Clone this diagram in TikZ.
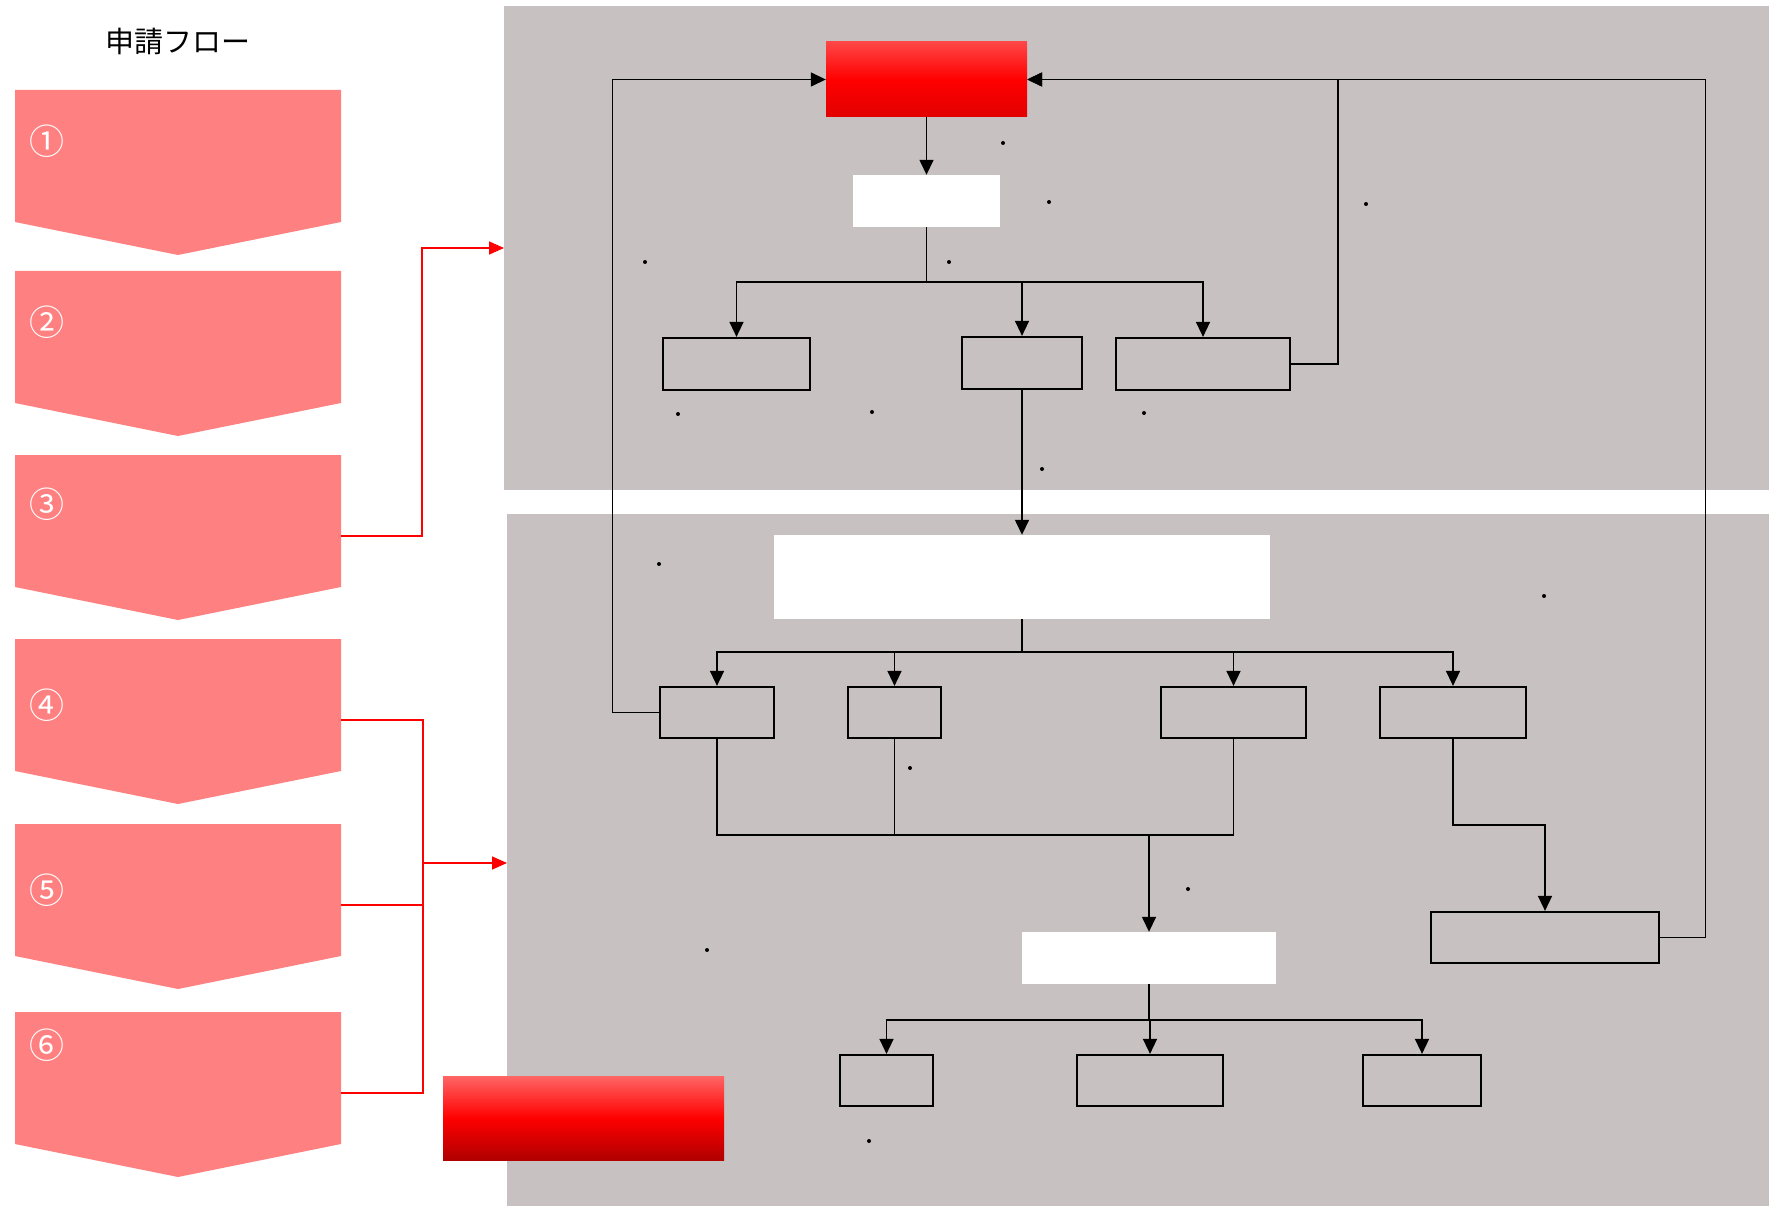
\documentclass[tikz,border=0pt]{standalone}
\usepackage{fontspec}
\newfontfamily\jp{Noto Sans CJK JP}
\usetikzlibrary{arrows.meta,calc}
\definecolor{panel}{RGB}{199,193,193}
\definecolor{pent}{RGB}{255,128,128}
\definecolor{redA}{RGB}{255,70,70}
\definecolor{redB}{RGB}{255,0,0}
\definecolor{redC}{RGB}{226,0,0}
\definecolor{redD}{RGB}{255,102,102}
\definecolor{redE}{RGB}{176,0,0}
\begin{document}
\begin{tikzpicture}[x=1pt,y=-1pt,
  obox/.style={draw=black,line width=2.2pt,inner sep=0pt},
  wbox/.style={fill=white,inner sep=0pt},
  redtop/.style={inner sep=0pt,top color=redA,bottom color=redC,middle color=redB},
  redbot/.style={inner sep=0pt,top color=redD,bottom color=redE,middle color=redB},
  conn/.style={draw=black,line width=1.5pt},
  arr/.style={conn,-{Triangle[length=15pt,width=14pt]}},
  rconn/.style={draw=red,line width=1.6pt},
  rarr/.style={rconn,-{Triangle[length=15pt,width=13pt]}},
  num/.style={text=white,font=\jp\fontsize{35}{38}\selectfont,inner sep=0pt},
  dotm/.style={fill=black}
]
\useasboundingbox (0,0) rectangle (1769,1206);
% panels
\fill[panel] (504,6) rectangle (1769,490);
\fill[panel] (507,514) rectangle (1769,1206);
\coordinate (upin) at (504,248);
\coordinate (lowin) at (507,863);

% title
\node[font=\jp\fontsize{29}{32}\selectfont,inner sep=0pt] (title) at (178,41) {申請フロー};

% pentagons
\foreach \t/\n/\ly/\k in {90/①/141/1,271/②/322/2,455/③/504/3,639/④/705/4,824/⑤/890/5,1012/⑥/1045/6}{
  \fill[pent] (15,\t) -- (341,\t) -- (341,\t+132) -- (178,\t+165) -- (15,\t+132) -- cycle;
  \node[num] (n\k) at (47,\ly) {\n};
}
\coordinate (p3) at (341,536);
\coordinate (p4) at (341,720);
\coordinate (p5) at (341,905);
\coordinate (p6) at (341,1093);

% red connectors
\draw[rarr] (p3) -- (422,536) -- (422,248) -- (upin);
\draw[rconn] (p4) -- (423,720) -- (423,1093) -- (p6);
\draw[rconn] (p5) -- (423,905);
\draw[rarr] (423,863) -- (lowin);

% nodes
\node[redtop,minimum width=201pt,minimum height=75pt] (top) at (926.5,79.5) {};
\node[wbox,minimum width=147pt,minimum height=52pt] (wa) at (926.5,201) {};
\node[obox,minimum width=147pt,minimum height=52pt] (b1) at (736.5,364) {};
\node[obox,minimum width=120pt,minimum height=52pt] (b2) at (1022,363) {};
\node[obox,minimum width=174pt,minimum height=52pt] (b3) at (1203,364) {};
\node[wbox,minimum width=496pt,minimum height=84pt] (wbig) at (1022,577) {};
\node[obox,minimum width=114pt,minimum height=51pt] (c1) at (717,712.5) {};
\node[obox,minimum width=93pt,minimum height=51pt] (c2) at (894.5,712.5) {};
\node[obox,minimum width=145pt,minimum height=51pt] (c3) at (1233.5,712.5) {};
\node[obox,minimum width=146pt,minimum height=51pt] (c4) at (1453,712.5) {};
\node[obox,minimum width=228pt,minimum height=51pt] (e) at (1545,937.5) {};
\node[wbox,minimum width=254pt,minimum height=52pt] (wd) at (1149,958) {};
\node[obox,minimum width=93pt,minimum height=51pt] (f1) at (886.5,1080.5) {};
\node[obox,minimum width=146pt,minimum height=51pt] (f2) at (1150,1080.5) {};
\node[obox,minimum width=118pt,minimum height=51pt] (f3) at (1422,1080.5) {};
\node[redbot,minimum width=281pt,minimum height=84pt] (rb) at (583.5,1118) {};

% connectors upper
\draw[arr] (top.south) -- (wa.north);
\draw[conn] (wa.south) -- (926.5,282);
\draw[arr] (926.5,282) -| (b1.north);
\draw[arr] (926.5,282) -| (b2.north);
\draw[arr] (926.5,282) -| (b3.north);
\draw[arr] (b3.east) -- (1338,364) -- (1338,79.5) -- (top.east);
\draw[arr] (e.east) -- (1705.5,937.5) -- (1705.5,79.5) -- (top.east);
\draw[arr] (c1.west) -- (612.5,712.5) -- (612.5,79.5) -- (top.west);
\draw[arr] (b2.south) -- (wbig.north);

% lower
\draw[conn] (wbig.south) -- (1022,652);
\draw[arr] (1022,652) -| (c1.north);
\draw[arr] (1022,652) -| (c2.north);
\draw[arr] (1022,652) -| (c3.north);
\draw[arr] (1022,652) -| (c4.north);
\draw[conn] (c1.south) -- (717,835) -- (1233.5,835) -- (c3.south);
\draw[conn] (c2.south) -- (894.5,835);
\draw[arr] (1149,835) -- (wd.north);
\draw[arr] (c4.south) -- (1453,825) -| (e.north);
\draw[conn] (wd.south) -- (1149,1020);
\draw[arr] (1149,1020) -| (f1.north);
\draw[arr] (1149,1020) -| (f2.north);
\draw[arr] (1149,1020) -| (f3.north);

% dots
\foreach \x/\y in {1003/143,1049/202,949/262,1366/204,645/262,678/414,872/412,1144/413,1042/469,659/564,1544/596,910/768,1188/889,707/950,869/1141}{
  \fill[dotm] (\x,\y) circle (2pt);
}
\end{tikzpicture}
\end{document}
